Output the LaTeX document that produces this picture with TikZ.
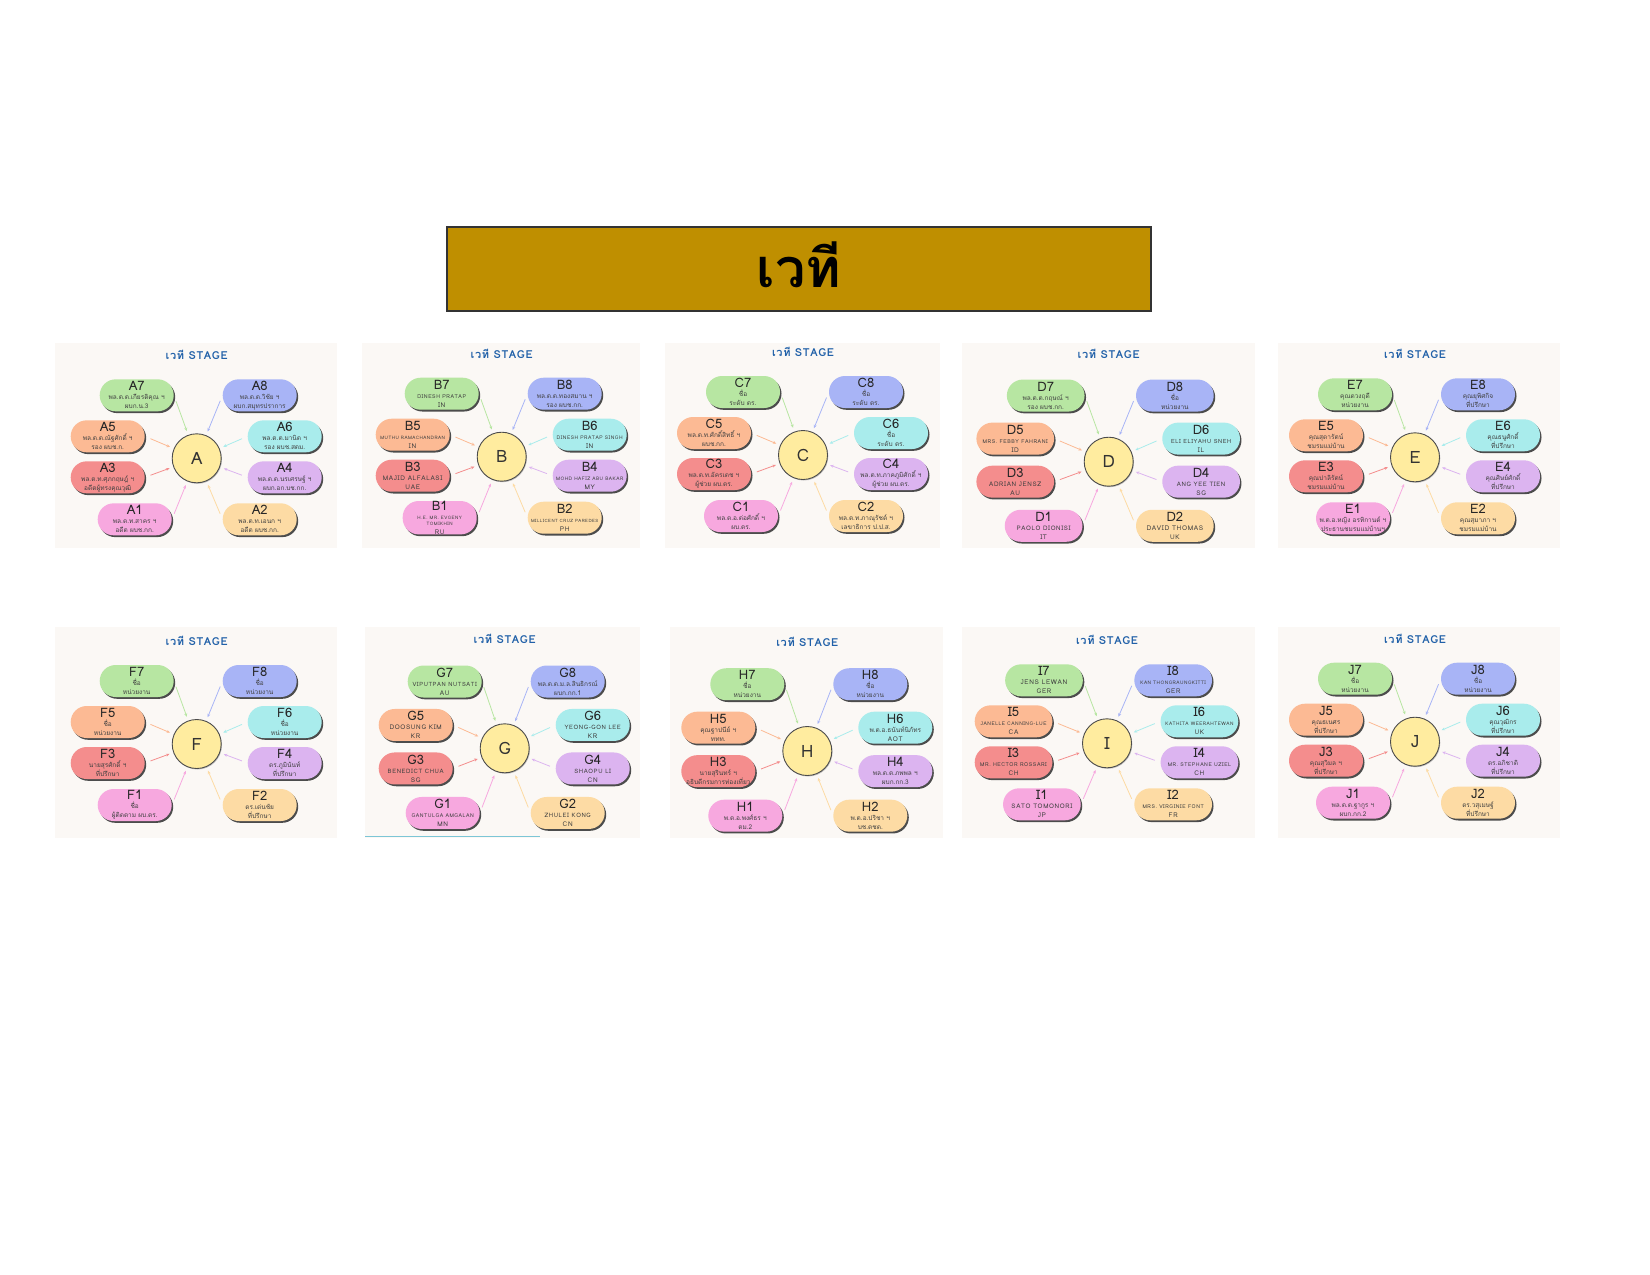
\documentclass[tikz,border=0pt]{standalone}
\usepackage{fontspec}
\setmainfont{Loma}[Script=Thai]
\usetikzlibrary{arrows.meta,shadows}

\definecolor{pill1}{HTML}{F7A8DF}
\definecolor{pill2}{HTML}{FDDBA4}
\definecolor{pill3}{HTML}{F48D8D}
\definecolor{pill4}{HTML}{DCB4F0}
\definecolor{pill5}{HTML}{FCBA94}
\definecolor{pill6}{HTML}{A9ECEC}
\definecolor{pill7}{HTML}{B7E6A2}
\definecolor{pill8}{HTML}{A8B4F6}
\definecolor{hubfill}{HTML}{FFEC9F}
\definecolor{panelbg}{HTML}{FBF8F5}
\definecolor{headblue}{HTML}{2060A8}
\definecolor{titlegold}{HTML}{BF8F00}
\definecolor{seamcyan}{HTML}{7CC6D6}

\newcommand{\pillhead}{\fontsize{13}{9}\selectfont\color{black!85}}
\newcommand{\lat}[2][6.5]{{\fontsize{#1}{9}\selectfont\addfontfeatures{LetterSpace=10}#2}}

\tikzset{
  pill/.style={rounded corners=16pt, minimum height=32pt, minimum width=\pillw pt,
    inner sep=0pt, align=center, font=\fontsize{6.5}{9}\selectfont, text=black!75,
    drop shadow={shadow xshift=1.5pt, shadow yshift=-1.8pt, fill=black!70, opacity=1}},
  hub/.style={circle, minimum size=49pt, inner sep=0pt, fill=hubfill, draw=black!70,
    line width=0.9pt, font=\fontsize{17}{17}\selectfont, text=black!80,
    drop shadow={shadow xshift=0.8pt, shadow yshift=-1pt, fill=black!40, opacity=0.6}},
  stagehead/.style={font=\bfseries\fontsize{11}{11}\selectfont\addfontfeatures{LetterSpace=6}, text=headblue},
  link/.style={-{Stealth[length=3.5pt,width=3pt]}, line width=0.8pt, shorten <=6pt, shorten >=4pt},
  titlebox/.style={fill=titlegold, draw=black!80, line width=1.3pt, minimum width=704pt, minimum height=84pt},
  titletext/.style={font=\bfseries\fontsize{54}{54}\selectfont, text=black}
}

% #1,#2 hub centre, #3 letter, #4/#5 spread, #6 pills n/line/line
\newcommand{\stagepanel}[6]{%
  \begin{scope}[shift={(#1,#2)}, xscale=#4, yscale=#5]
    \pgfmathsetmacro{\pillw}{74*#4}
    \coordinate (#3p1) at (-62,61);
    \coordinate (#3p2) at (63,61);
    \coordinate (#3p3) at (-89,19);
    \coordinate (#3p4) at (88,19);
    \coordinate (#3p5) at (-89,-22);
    \coordinate (#3p6) at (88,-22);
    \coordinate (#3p7) at (-60,-63);
    \coordinate (#3p8) at (63,-63);
    \node[stagehead] (#3head) at (0,-103) {เวที STAGE};
    \node[hub] (#3) at (0,0) {#3};
    \foreach \n/\la/\lb in {#6}{
      \node[pill, fill=pill\n] (#3\n) at (#3p\n) {{\pillhead #3\n}\\\la\\\lb};
      \ifodd\n
        \draw[link, draw=pill\n] (#3\n.east) -- (#3);
      \else
        \draw[link, draw=pill\n] (#3\n.west) -- (#3);
      \fi
    }
  \end{scope}}

\begin{document}
\begin{tikzpicture}[x=1pt, y=-1pt]
  %%%%% PAGE %%%%%
  \useasboundingbox (0,0) rectangle (1650,1275);
  \fill[white] (0,0) rectangle (1650,1275);

  \node[titlebox] (title) at (799,269) {};
  \node[titletext, anchor=base] (titleword) at (799,287) {เวที};

  %%%%% PANELS %%%%%
  \foreach \xa/\ya/\xb/\yb in {55/343/337/548, 362/343/640/548, 665/343/940/548,
      962/343/1255/548, 1278/343/1560/548, 55/627/337/838, 365/627/640/838,
      670/627/943/838, 962/627/1255/838, 1278/627/1560/838}
    \fill[panelbg] (\xa,\ya) rectangle (\xb,\yb);
  \draw[line width=1pt, draw=seamcyan] (365,836) -- (540,836);

  \stagepanel{196.7}{458.3}{A}{1}{1}{
    7/{พล.ต.ต.เกียรติคุณ ฯ}/{ผบก.น.3},
    8/{พล.ต.ต.วิชัย ฯ}/{ผบก.สมุทรปราการ},
    5/{พล.ต.ต.ณัฐศักดิ์ ฯ}/{รอง ผบช.ก.},
    6/{พล.ต.ต.มานิต ฯ}/{รอง ผบช.สตม.},
    3/{พล.ต.ท.ศุภกฤษฎ์ ฯ}/{อดีตผู้ทรงคุณวุฒิ},
    4/{พล.ต.ต.นรเศรษฐ์ ฯ}/{ผบก.อก.บช.กก.},
    1/{พล.ต.ท.สาคร ฯ}/{อดีต ผบช.กก.},
    2/{พล.ต.ท.เอนก ฯ}/{อดีต ผบช.กก.}}

  \stagepanel{501.7}{456.7}{B}{1}{1}{
    7/{\lat[5.3]{DINESH PRATAP}}/{\lat{IN}},
    8/{พล.ต.ต.ทองสมาน ฯ}/{รอง ผบช.กก.},
    5/{\lat[4.6]{MUTHU RAMACHANDRAN}}/{\lat{IN}},
    6/{\lat[5]{DINESH PRATAP SINGH}}/{\lat{IN}},
    3/{\lat[6.4]{MAJID ALFALASI}}/{\lat{UAE}},
    4/{\lat[4.8]{MOHD HAFIZ ABU BAKAR}}/{\lat{MY}},
    1/{\lat[4.6]{H.E. MR. EVGENY}\\[-3pt]\lat[4.6]{TOMIKHIN}}/{\lat{RU}},
    2/{\lat[4.4]{MILLICENT CRUZ PAREDES}}/{\lat{PH}}}

  \stagepanel{803}{455}{C}{1}{1}{
    7/{ชื่อ}/{ระดับ ตร.},
    8/{ชื่อ}/{ระดับ ตร.},
    5/{พล.ต.ท.ศักดิ์สิทธิ์ ฯ}/{ผบช.กก.},
    6/{ชื่อ}/{ระดับ ตร.},
    3/{พล.ต.ท.อัครเดช ฯ}/{ผู้ช่วย ผบ.ตร.},
    4/{พล.ต.ท.ภาคภูมิศักดิ์ ฯ}/{ผู้ช่วย ผบ.ตร.},
    1/{พล.ต.อ.ต่อศักดิ์ ฯ}/{ผบ.ตร.},
    2/{พล.ต.ท.ภาณุรัชต์ ฯ}/{เลขาธิการ ป.ป.ส.}}

  \stagepanel{1108.7}{461.7}{D}{1.05}{1.05}{
    7/{พล.ต.ต.กฤษณ์ ฯ}/{รอง ผบช.กก.},
    8/{ชื่อ}/{หน่วยงาน},
    5/{\lat[5.3]{MRS. FEBBY FAHRANI}}/{\lat{ID}},
    6/{\lat[5.7]{ELI ELIYAHU SNEH}}/{\lat{IL}},
    3/{\lat[6.3]{ADRIAN JENSZ}}/{\lat{AU}},
    4/{\lat[6.1]{ANG YEE TIEN}}/{\lat{SG}},
    1/{\lat[6.2]{PAOLO DIONISI}}/{\lat{IT}},
    2/{\lat[6.5]{DAVID THOMAS}}/{\lat{UK}}}

  \stagepanel{1415}{457.3}{E}{1}{1}{
    7/{คุณดวงฤดี}/{หน่วยงาน},
    8/{คุณยุพิศกิจ}/{ที่ปรึกษา},
    5/{คุณสุดารัตน์}/{ชมรมแม่บ้าน},
    6/{คุณธนูศักดิ์}/{ที่ปรึกษา},
    3/{คุณปาลิรัตน์}/{ชมรมแม่บ้าน},
    4/{คุณศิษย์ศักดิ์}/{ที่ปรึกษา},
    1/{พ.ต.อ.หญิง อรทิกานต์ ฯ}/{ประธานชมรมแม่บ้านฯ},
    2/{คุณสุมาภา ฯ}/{ชมรมแม่บ้าน}}

  \stagepanel{196.7}{744}{F}{1}{1}{
    7/{ชื่อ}/{หน่วยงาน},
    8/{ชื่อ}/{หน่วยงาน},
    5/{ชื่อ}/{หน่วยงาน},
    6/{ชื่อ}/{หน่วยงาน},
    3/{นายสุรศักดิ์ ฯ}/{ที่ปรึกษา},
    4/{ดร.ภูมินันท์}/{ที่ปรึกษา},
    1/{ชื่อ}/{ผู้ติดตาม ผบ.ตร.},
    2/{ดร.เด่นชัย}/{ที่ปรึกษา}}

  \stagepanel{504.7}{748.3}{G}{1}{1.06}{
    7/{\lat[5.8]{VIPUTPAN NUTSATI}}/{\lat{AU}},
    8/{พล.ต.ต.ม.ล.สินธิกรณ์}/{ผบก.กก.1},
    5/{\lat[6.4]{DOOSUNG KIM}}/{\lat{KR}},
    6/{\lat[6]{YEONG-GON LEE}}/{\lat{KR}},
    3/{\lat[6]{BENEDICT CHUA}}/{\lat{SG}},
    4/{\lat[6]{SHAOPU LI}}/{\lat{CN}},
    1/{\lat[5.2]{GANTULGA AMGALAN}}/{\lat{MN}},
    2/{\lat[6]{ZHULEI KONG}}/{\lat{CN}}}

  \stagepanel{807.3}{751}{H}{1}{1.06}{
    7/{ชื่อ}/{หน่วยงาน},
    8/{ชื่อ}/{หน่วยงาน},
    5/{คุณฐาปนีย์ ฯ}/{ททท.},
    6/{พ.ต.อ.ธนันท์นิภัทร}/{\lat{AOT}},
    3/{นายสุรินทร์ ฯ}/{อธิบดีกรมการท่องเที่ยว},
    4/{พล.ต.ต.ภพพล ฯ}/{ผบก.กก.3},
    1/{พ.ต.อ.พงศ์ธร ฯ}/{ตม.2},
    2/{พ.ต.อ.ปริชา ฯ}/{บช.ตชด.}}

  \stagepanel{1107}{743.3}{I}{1.05}{1}{
    7/{\lat[6.5]{JENS LEWAN}}/{\lat{GER}},
    8/{\lat[4.8]{KAN THONGRAUNGKITTI}}/{\lat{GER}},
    5/{\lat[5]{JANELLE CANNING-LUE}}/{\lat{CA}},
    6/{\lat[4.8]{KATHITA WEERAHTEWAN}}/{\lat{UK}},
    3/{\lat[5.3]{MR. HECTOR ROSSARI}}/{\lat{CH}},
    4/{\lat[5.2]{MR. STEPHANE UZIEL}}/{\lat{CH}},
    1/{\lat[6.3]{SATO TOMONORI}}/{\lat{JP}},
    2/{\lat[5.2]{MRS. VIRGINIE FONT}}/{\lat{FR}}}

  \stagepanel{1415}{741.7}{J}{1}{1}{
    7/{ชื่อ}/{หน่วยงาน},
    8/{ชื่อ}/{หน่วยงาน},
    5/{คุณธเนศร}/{ที่ปรึกษา},
    6/{คุณวุฒิกร}/{ที่ปรึกษา},
    3/{คุณสุวิมล ฯ}/{ที่ปรึกษา},
    4/{ดร.อภิชาติ}/{ที่ปรึกษา},
    1/{พล.ต.ต.ฐากูร ฯ}/{ผบก.กก.2},
    2/{ดร.วสุเมษฐ์}/{ที่ปรึกษา}}
\end{tikzpicture}
\end{document}
